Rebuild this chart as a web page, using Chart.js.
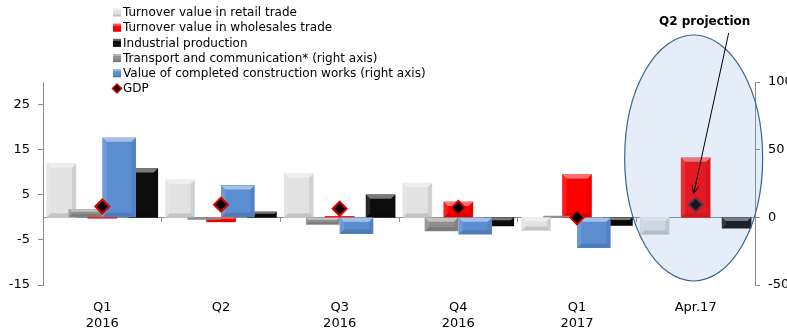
<!DOCTYPE html>
<html>
<head>
<meta charset="utf-8">
<script src="https://cdn.jsdelivr.net/npm/chart.js@4.4.0/dist/chart.umd.min.js"></script>
<style>
  html, body { margin: 0; padding: 0; background: #fff; overflow: hidden; }
  #wrap { width: 787px; height: 331px; position: relative; }
</style>
</head>
<body>
<div id="wrap"><canvas id="myChart" width="787" height="331"></canvas></div>
<script>
// categories
const labels = [['Q1', '2016'], 'Q2', ['Q3', '2016'], ['Q4', '2016'], ['Q1', '2017'], 'Apr.17'];

// left axis series (% change)
const retail = [11.9, 8.3, 9.7, 7.6, -2.9, -3.8];
const wholesale = [-0.2, -1.0, 0.2, 3.4, 9.5, 13.2];
const industrial = [10.8, 1.2, 5.0, -1.9, -1.8, -2.4];
const gdp = [2.4, 2.8, 1.9, 2.1, 0.0, 2.8];

// right axis series
const transport = [5.9, -1.5, -5.2, -10.1, 1.0, null];
const construction = [58.8, 23.6, -12.0, -12.5, -22.4, null];

// tick labels
const leftTicks = [-15, -5, 5, 15, 25];
const rightTicks = [-50, 0, 50, 100];

const axisGrey = '#8c8c8c';
Chart.defaults.font.family = 'DejaVu Sans';
Chart.defaults.color = '#000';

// place a series inside its category slot (offset is a fraction of one category)
const atSlot = (arr, off) => arr.map((v, i) => ({ x: i + off, y: v }));

// soft bevel look on each bar, drawn right after its own dataset
const bevelPlugin = {
  id: 'bevel',
  afterDatasetDraw(chart, args) {
    const meta = args.meta;
    if (meta.type !== 'bar') return;
    const ctx = chart.ctx;
    ctx.save();
    meta.data.forEach(el => {
      const p = el.getProps(['x', 'y', 'base', 'width'], true);
      if (p.y == null || isNaN(p.y)) return;
      const l = p.x - p.width / 2, r = p.x + p.width / 2;
      const t = Math.min(p.y, p.base), b = Math.max(p.y, p.base);
      const h = b - t;
      if (h < 3) return;
      const d = Math.min(4, h / 3, p.width / 4);
      const poly = (pts, c) => {
        ctx.fillStyle = c;
        ctx.beginPath();
        ctx.moveTo(pts[0][0], pts[0][1]);
        for (let i = 1; i < pts.length; i++) ctx.lineTo(pts[i][0], pts[i][1]);
        ctx.closePath();
        ctx.fill();
      };
      poly([[l, t], [r, t], [r - d, t + d], [l + d, t + d]], 'rgba(255,255,255,0.45)');
      poly([[l, b], [r, b], [r - d, b - d], [l + d, b - d]], 'rgba(0,0,0,0.13)');
      poly([[l, t], [l + d, t + d], [l + d, b - d], [l, b]], 'rgba(255,255,255,0.12)');
      poly([[r, t], [r - d, t + d], [r - d, b - d], [r, b]], 'rgba(0,0,0,0.08)');
    });
    ctx.restore();
  }
};

// projection ellipse, arrow and caption
const projectionPlugin = {
  id: 'projection',
  afterDatasetsDraw(chart) {
    const ctx = chart.ctx;
    const xs = chart.scales.x, ys = chart.scales.y;
    const cx = xs.getPixelForValue(5) - 2;
    const top = 35, bottom = 281;
    const cy = (top + bottom) / 2, ry = (bottom - top) / 2, rx = 69;
    ctx.save();
    ctx.beginPath();
    ctx.ellipse(cx, cy, rx, ry, 0, 0, Math.PI * 2);
    ctx.fillStyle = 'rgba(100,150,215,0.17)';
    ctx.fill();
    ctx.lineWidth = 1.2;
    ctx.strokeStyle = '#3b6393';
    ctx.stroke();

    // arrow pointing at the GDP projection marker
    const ex = xs.getPixelForValue(5) - 2, ey = ys.getPixelForValue(gdp[5]) - 11;
    const sx = ex + 35, sy = 33;
    ctx.strokeStyle = '#000';
    ctx.lineWidth = 1;
    ctx.beginPath();
    ctx.moveTo(sx, sy);
    ctx.lineTo(ex, ey);
    const ang = Math.atan2(ey - sy, ex - sx);
    const hl = 9;
    ctx.moveTo(ex, ey);
    ctx.lineTo(ex - hl * Math.cos(ang - 0.4), ey - hl * Math.sin(ang - 0.4));
    ctx.moveTo(ex, ey);
    ctx.lineTo(ex - hl * Math.cos(ang + 0.4), ey - hl * Math.sin(ang + 0.4));
    ctx.stroke();

    ctx.fillStyle = '#000';
    ctx.font = 'bold 12px "DejaVu Sans"';
    ctx.textAlign = 'center';
    ctx.textBaseline = 'middle';
    ctx.fillText('Q2 projection', cx + 11, 22);
    ctx.restore();
  }
};

// vertical legend in the top left corner
const legendPlugin = {
  id: 'vlegend',
  afterDraw(chart) {
    const ctx = chart.ctx;
    const bx = 113, tx = 123;
    ctx.save();
    ctx.font = '12px "DejaVu Sans"';
    ctx.textBaseline = 'middle';
    ctx.textAlign = 'left';
    chart.data.datasets.forEach((ds, i) => {
      const y = 12.5 + i * 15.2;
      if (ds.type === 'line') {
        ctx.beginPath();
        ctx.moveTo(bx + 4, y - 4.5);
        ctx.lineTo(bx + 8.5, y);
        ctx.lineTo(bx + 4, y + 4.5);
        ctx.lineTo(bx - 0.5, y);
        ctx.closePath();
        ctx.fillStyle = '#000';
        ctx.fill();
        ctx.lineWidth = 1.5;
        ctx.strokeStyle = '#e00000';
        ctx.stroke();
      } else {
        ctx.fillStyle = ds.backgroundColor;
        ctx.fillRect(bx, y - 4, 8, 8);
        ctx.fillStyle = 'rgba(255,255,255,0.35)';
        ctx.fillRect(bx, y - 4, 8, 2);
        ctx.fillStyle = 'rgba(0,0,0,0.15)';
        ctx.fillRect(bx, y + 2, 8, 2);
      }
      ctx.fillStyle = '#000';
      ctx.fillText(ds.label, tx, y + 0.5);
    });
    ctx.restore();
  }
};

const leftBar = { xAxisID: 'x', yAxisID: 'y', grouped: false, barThickness: 29, borderWidth: 0 };
const rightBar = { xAxisID: 'x', yAxisID: 'y2', grouped: false, barThickness: 33, borderWidth: 0 };

const ctx = document.getElementById('myChart').getContext('2d');
new Chart(ctx, {
  type: 'bar',
  data: {
    datasets: [
      Object.assign({ label: 'Turnover value in retail trade', data: atSlot(retail, -0.345), backgroundColor: '#e2e2e2', order: 3 }, leftBar),
      Object.assign({ label: 'Turnover value in wholesales trade', data: atSlot(wholesale, 0), backgroundColor: '#ff0000', order: 4 }, leftBar),
      Object.assign({ label: 'Industrial production', data: atSlot(industrial, 0.345), backgroundColor: '#0c0c0c', order: 5 }, leftBar),
      Object.assign({ label: 'Transport and communication* (right axis)', data: atSlot(transport, -0.142), backgroundColor: '#8e8e8e', order: 1 }, rightBar),
      Object.assign({ label: 'Value of completed construction works (right axis)', data: atSlot(construction, 0.142), backgroundColor: '#5a8ed1', order: 2 }, rightBar),
      {
        type: 'line',
        label: 'GDP',
        data: atSlot(gdp, 0),
        xAxisID: 'x',
        yAxisID: 'y',
        order: 0,
        showLine: false,
        pointStyle: 'rectRot',
        pointRadius: 7,
        pointBorderWidth: 2,
        pointBackgroundColor: '#000',
        pointBorderColor: ['#e00000', '#e00000', '#e00000', '#e00000', '#e00000', '#6b1c24']
      }
    ]
  },
  options: {
    responsive: false,
    animation: false,
    layout: { padding: { top: 82, left: 0, right: 0, bottom: 0 } },
    plugins: { legend: { display: false }, tooltip: { enabled: false } },
    scales: {
      x: {
        type: 'linear',
        position: 'bottom',
        offset: false,
        min: -0.5,
        max: 5.5,
        afterBuildTicks: s => { s.ticks = labels.map((_, i) => ({ value: i })); },
        grid: { display: false, offset: false },
        border: { display: false },
        ticks: { font: { size: 13 }, padding: 7, maxRotation: 0, autoSkip: false, callback: v => labels[v] },
        afterFit: s => { s.height = 46; }
      },
      x2: {
        type: 'linear',
        position: { y: 0 },
        offset: false,
        min: -0.5,
        max: 5.5,
        afterBuildTicks: s => { s.ticks = [-0.5, 0.5, 1.5, 2.5, 3.5, 4.5, 5.5].map(v => ({ value: v })); },
        grid: { drawOnChartArea: false, drawTicks: true, tickLength: 4, color: axisGrey, offset: false },
        border: { display: true, color: axisGrey },
        ticks: { display: false }
      },
      y: {
        position: 'left',
        min: -15,
        max: 30,
        afterBuildTicks: s => { s.ticks = leftTicks.map(v => ({ value: v })); },
        afterFit: s => { s.width = 43; },
        border: { display: true, color: axisGrey },
        grid: { drawOnChartArea: false, drawTicks: true, tickLength: 5, color: axisGrey },
        ticks: { font: { size: 13 }, padding: 8 }
      },
      y2: {
        position: 'right',
        min: -50,
        max: 100,
        afterBuildTicks: s => { s.ticks = rightTicks.map(v => ({ value: v })); },
        afterFit: s => { s.width = 32; },
        border: { display: true, color: axisGrey },
        grid: { drawOnChartArea: false, drawTicks: true, tickLength: 5, color: axisGrey },
        ticks: { font: { size: 13 }, padding: 8 }
      }
    }
  },
  plugins: [bevelPlugin, projectionPlugin, legendPlugin]
});
</script>
</body>
</html>
